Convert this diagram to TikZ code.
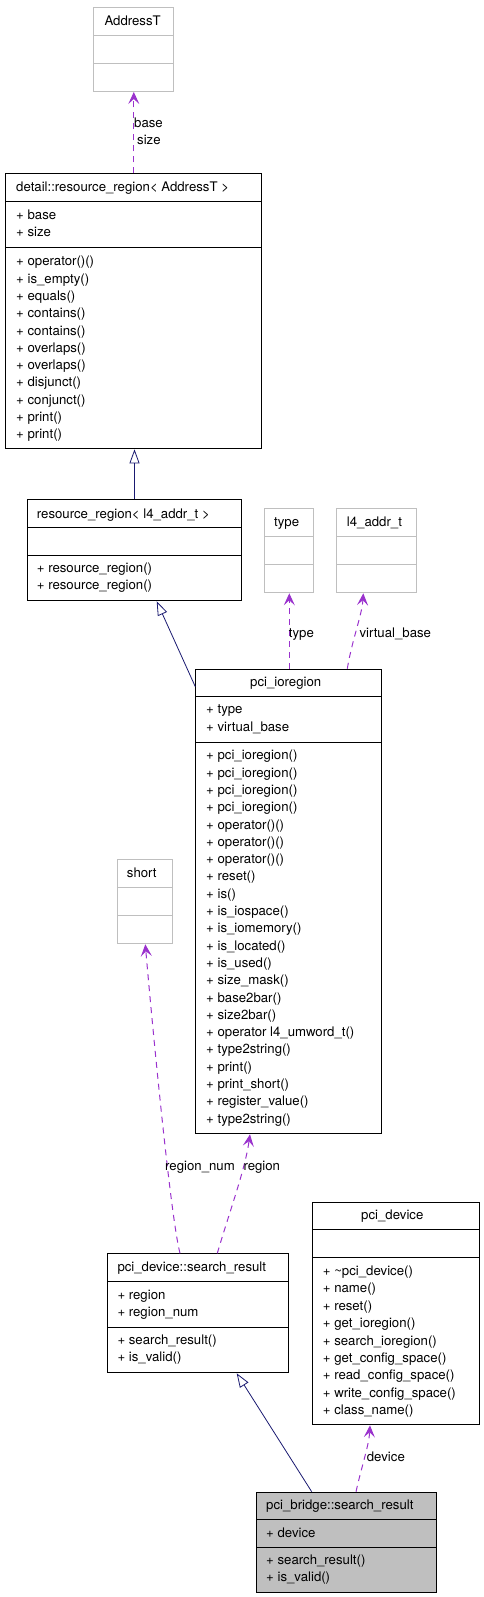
\documentclass[tikz,border=0pt]{standalone}
\usepackage{fontspec}
\setmainfont{TeX Gyre Heros}
\usetikzlibrary{arrows.meta}
\definecolor{usecol}{HTML}{9A32CD}
\definecolor{inhcol}{HTML}{191970}
\definecolor{extgray}{HTML}{BFBFBF}
\newcommand{\sepline}[2]{\draw[line width=1pt] ([yshift=-#2pt]#1.north west) -- ([yshift=-#2pt]#1.north east);}
\newcommand{\gsepline}[2]{\draw[line width=1pt,draw=extgray] ([yshift=-#2pt]#1.north west) -- ([yshift=-#2pt]#1.north east);}
\begin{document}
\begin{tikzpicture}[x=1pt,y=-1pt,
  box/.style={draw=black, line width=1pt, inner sep=0pt, anchor=north west},
  extbox/.style={draw=extgray, line width=1pt, inner sep=0pt, anchor=north west},
  txt/.style={anchor=base west, inner sep=0pt, font=\fontsize{13.2}{15}\selectfont},
  usage/.style={draw=usecol, line width=1pt, dash pattern=on 6pt off 5pt,
     -{Stealth[length=12pt,width=11pt,inset=5pt,fill=usecol]}},
  inherit/.style={draw=inhcol, line width=0.8pt,
     -{Triangle[open,length=14pt,width=10pt,fill=white,line width=0.8pt]}}
]
\useasboundingbox (0,0) rectangle (483,1597);

% AddressT
\node[extbox, minimum width=80pt, minimum height=83.7pt] (addr) at (93.3,7.3) {};
\gsepline{addr}{28}\gsepline{addr}{56}
\node[txt] (addr-t) at (104.3,25.5) {AddressT};

% detail::resource_region
\node[box, minimum width=256.3pt, minimum height=275pt] (det) at (5,173.3) {};
\sepline{det}{28}\sepline{det}{74}
\node[txt] (det-t) at (16,191.5) {detail::resource\_region< AddressT >};
\node[txt] (det-a1) at (16,219.5) {+ base};
\node[txt] (det-a2) at (16,236.8) {+ size};
\foreach \m [count=\i from 0] in {operator()(), is\_empty(), equals(), contains(), contains(), overlaps(), overlaps(), disjunct(), conjunct(), print(), print()}
  \node[txt] (det-m\i) at (16,265.8+\i*17.3) {+ \m};

% resource_region<l4_addr_t>
\node[box, minimum width=213.4pt, minimum height=101pt] (rr) at (27.3,499.3) {};
\sepline{rr}{28}\sepline{rr}{56}
\node[txt] (rr-t) at (36.7,518) {resource\_region< l4\_addr\_t >};
\node[txt] (rr-m0) at (36.7,572.8) {+ resource\_region()};
\node[txt] (rr-m1) at (36.7,589.8) {+ resource\_region()};

% type
\node[extbox, minimum width=49pt, minimum height=84pt] (tp) at (264.3,508.3) {};
\gsepline{tp}{28}\gsepline{tp}{56}
\node[txt] (tp-t) at (274,526.5) {type};

% l4_addr_t
\node[extbox, minimum width=80pt, minimum height=84pt] (l4) at (336.3,508.3) {};
\gsepline{l4}{28}\gsepline{l4}{56}
\node[txt] (l4-t) at (346.7,526.5) {l4\_addr\_t};

% pci_ioregion
\node[box, minimum width=186pt, minimum height=464.6pt] (io) at (195.3,668.7) {};
\sepline{io}{27.6}\sepline{io}{73.3}
\node[txt] (io-t) at (250,686.5) {pci\_ioregion};
\node[txt] (io-a1) at (206,713.8) {+ type};
\node[txt] (io-a2) at (206,731.5) {+ virtual\_base};
\foreach \m [count=\i from 0] in {pci\_ioregion(), pci\_ioregion(), pci\_ioregion(), pci\_ioregion(), operator()(), operator()(), operator()(), reset(), is(), is\_iospace(), is\_iomemory(), is\_located(), is\_used(), size\_mask(), base2bar(), size2bar(), operator l4\_umword\_t(), type2string(), print(), print\_short(), register\_value(), type2string()}
  \node[txt] (io-m\i) at (206,759.8+\i*17.3) {+ \m};

% short
\node[extbox, minimum width=55pt, minimum height=84pt] (sh) at (117.3,859.3) {};
\gsepline{sh}{28}\gsepline{sh}{56}
\node[txt] (sh-t) at (126.7,877.5) {short};

% pci_device::search_result
\node[box, minimum width=181pt, minimum height=119pt] (sr) at (107.3,1253.3) {};
\sepline{sr}{28.4}\sepline{sr}{73.7}
\node[txt] (sr-t) at (117.3,1271.5) {pci\_device::search\_result};
\node[txt] (sr-a1) at (117.3,1299.8) {+ region};
\node[txt] (sr-a2) at (117.3,1316.8) {+ region\_num};
\node[txt] (sr-m0) at (117.3,1344.8) {+ search\_result()};
\node[txt] (sr-m1) at (117.3,1361.8) {+ is\_valid()};

% pci_device
\node[box, minimum width=167pt, minimum height=222.6pt] (pd) at (312.3,1201.7) {};
\sepline{pd}{28}\sepline{pd}{56}
\node[txt] (pd-t) at (361,1219.8) {pci\_device};
\foreach \m [count=\i from 0] in {\textasciitilde pci\_device(), name(), reset(), get\_ioregion(), search\_ioregion(), get\_config\_space(), read\_config\_space(), write\_config\_space(), class\_name()}
  \node[txt] (pd-m\i) at (322.7,1275.5+\i*17.4) {+ \m};

% pci_bridge::search_result
\node[box, fill=extgray, minimum width=180pt, minimum height=100.6pt] (br) at (256.3,1491.7) {};
\sepline{br}{28}\sepline{br}{56}
\node[txt] (br-t) at (266,1509.8) {pci\_bridge::search\_result};
\node[txt] (br-a1) at (266,1537.5) {+ device};
\node[txt] (br-m0) at (266,1564.8) {+ search\_result()};
\node[txt] (br-m1) at (266,1581.8) {+ is\_valid()};

% connectors
\draw[usage] (det.north -| addr.south) -- (addr.south);
\node[txt] (lb-base) at (134,128) {base};
\node[txt] (lb-size) at (137,145) {size};

\draw[inherit] (rr.north) -- (rr.north |- det.south);

\draw[inherit] ([yshift=-18pt]io.north west) -- ([xshift=129.4pt]rr.south west);

\draw[usage] (io.north -| tp.south) -- (tp.south);
\node[txt] (lb-type) at (288.7,637.5) {type};

\draw[usage] ([xshift=152pt]io.north west) .. controls (352,640) and (362,615) .. ([xshift=27pt]l4.south west);
\node[txt] (lb-vb) at (359.3,637.5) {virtual\_base};

\draw[usage] ([xshift=72.7pt]sr.north west) .. controls (170,1215) and (150,1000) .. ([xshift=28pt]sh.south west);
\node[txt] (lb-rn) at (165,1170.8) {region\_num};

\draw[usage] ([xshift=110pt]sr.north west) .. controls (230,1210) and (245,1170) .. ([xshift=54.7pt]io.south west);
\node[txt] (lb-rg) at (243.3,1170.8) {region};

\draw[inherit] ([xshift=55.4pt]br.north west) -- ([xshift=129.4pt]sr.south west);

\draw[usage] ([xshift=99.7pt]br.north west) .. controls (362,1465) and (369,1445) .. ([xshift=57.7pt]pd.south west);
\node[txt] (lb-dev) at (366.7,1461.5) {device};
\end{tikzpicture}
\end{document}
